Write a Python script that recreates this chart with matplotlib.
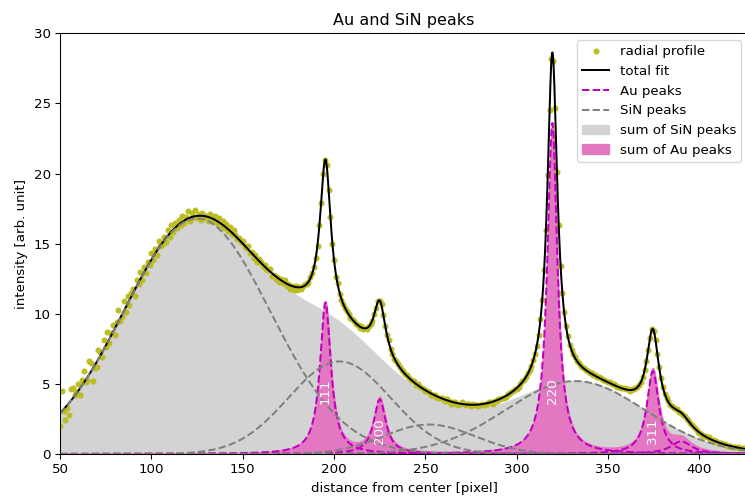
import numpy as np
import matplotlib
matplotlib.use("Agg")
import matplotlib.pyplot as plt

# Azimuthally averaged intensity, one value per pixel radius starting at r = 50
radial_start = 50
radial_profile = [
    2.0, 4.5, 3.1, 2.4, 3.3, 2.8, 4.6, 4.7, 4.2, 4.4,              # 50-59
    5.0, 4.2, 5.3, 5.9, 5.1, 5.3, 6.6, 6.5, 5.2, 6.1,              # 60-69
    6.2, 7.4, 7.3, 6.9, 8.1, 7.6, 8.7, 7.9, 8.6, 9.2,              # 70-79
    8.5, 9.4, 10.3, 9.5, 9.8, 10.9, 10.1, 11.3, 10.6, 11.5,        # 80-89
    11.8, 11.3, 12.4, 12.1, 13.0, 12.4, 13.3, 12.9, 13.7, 13.5,    # 90-99
    14.3, 13.8, 14.6, 14.2, 15.2, 14.8, 14.9, 15.5, 15.1, 16.0,    # 100-109
    15.5, 16.3, 15.8, 16.5, 16.1, 16.7, 16.3, 17.0, 16.5, 16.9,    # 110-119
    17.3, 16.6, 17.2, 16.9, 17.4, 16.8, 17.1, 16.7, 17.2, 16.9, 17.0, 16.6,  # 120-131
    17.1, 16.6, 16.9, 17.0, 16.5, 16.8, 16.3, 16.6,                # 132-139
    16.1, 16.4, 15.9, 16.2, 15.7, 16.0, 15.6, 15.3,                # 140-147
    15.4, 15.1, 15.2, 14.8, 14.7, 14.8, 14.3, 14.4, 14.0, 14.2, 13.7, 13.9,  # 148-159
    13.7, 13.4, 13.5, 13.2, 13.1, 13.2, 12.7, 12.8, 12.5, 12.6, 12.3, 12.5,  # 160-171
    12.2, 12.4, 12.0, 12.1, 11.8, 12.0, 11.7, 12.0, 11.7, 11.9, 11.8, 12.0,  # 172-183
    12.1, 12.1, 12.3, 12.6, 12.9, 13.3, 14.0, 14.8, 16.3, 17.9, 20.0,        # 184-194
    21.0, 20.6, 18.8, 16.9, 15.0, 13.8, 12.6, 12.2, 11.4, 11.0, 10.7, 10.4,  # 195-206
    10.2, 10.0, 9.7, 9.6, 9.5, 9.3, 9.2, 9.0, 9.1, 8.9, 9.0, 8.9,            # 207-218
    9.1, 9.3, 9.5, 10.0, 10.4, 10.9, 10.9, 10.7, 9.9, 9.1, 8.5, 8.1,         # 219-230
    7.5, 7.1, 6.8, 6.6, 6.4, 6.2, 6.0, 5.9, 5.7, 5.6, 5.4, 5.3,              # 231-242
    5.2, 5.2, 4.9, 5.0, 4.8, 4.7, 4.6, 4.5, 4.5, 4.4, 4.2, 4.2,              # 243-254
    4.2, 4.1, 4.0, 4.0, 4.0, 3.9, 3.8, 3.9, 3.8, 3.6, 3.7, 3.7,              # 255-266
    3.6, 3.5, 3.6, 3.7, 3.6, 3.5, 3.6, 3.6,                                  # 267-274
    3.4, 3.6, 3.5, 3.5, 3.4, 3.5, 3.6, 3.5,                                  # 275-282
    3.6, 3.6, 3.7, 3.7, 3.6, 3.8, 3.8, 3.9, 3.9, 4.0, 4.0, 4.1,              # 283-294
    4.3, 4.3, 4.4, 4.5, 4.6, 4.6, 4.8, 5.0, 5.2, 5.3, 5.5, 5.8,              # 295-306
    6.0, 6.3, 6.7, 7.1, 7.7, 8.5, 9.6, 11.0, 13.1, 16.0, 19.9, 24.5,         # 307-318
    28.2, 28.0, 24.7, 20.1, 16.3, 13.4, 11.5, 10.1, 9.1, 8.4, 7.8, 7.4,      # 319-330
    7.1, 6.9, 6.6, 6.5, 6.3, 6.2, 6.1, 6.0, 5.9, 5.8, 5.8, 5.6,              # 331-342
    5.6, 5.5, 5.5, 5.4, 5.3, 5.3, 5.2, 5.1, 5.1, 5.0, 5.0, 4.9,              # 343-354
    4.8, 4.8, 4.7, 4.7, 4.7, 4.6, 4.6, 4.5, 4.6, 4.6, 4.7, 4.8,              # 355-366
    4.9, 5.1, 5.5, 6.0, 6.6, 7.4, 8.3, 8.9, 8.8, 8.1, 7.1, 6.2,              # 367-378
    5.4, 4.8, 4.3, 4.0, 3.8, 3.5, 3.4, 3.3, 3.2, 3.2, 3.0, 2.9,              # 379-390
    2.8, 2.7, 2.5, 2.4, 2.2, 2.1, 1.9, 1.8, 1.6, 1.5, 1.4, 1.3,              # 391-402
    1.3, 1.2, 1.2, 1.1, 1.0, 1.0, 0.9, 0.8, 0.8, 0.8, 0.7, 0.7,              # 403-414
    0.6, 0.6, 0.6, 0.5, 0.5, 0.5, 0.5, 0.4, 0.4, 0.4, 0.4,                   # 415-425
]

# SiN background peaks: Gaussian (amplitude, centre, sigma)
sin_amp = [16.8, 6.6, 2.1, 5.2]
sin_cen = [125.0, 203.0, 252.0, 332.0]
sin_sig = [40.0, 28.0, 25.0, 38.0]

# Au reflections: Lorentzian (amplitude, centre, half width)
au_amp = [10.8, 3.9, 23.6, 5.9, 0.9]
au_cen = [195.3, 225.0, 319.5, 374.5, 390.0]
au_hwhm = [3.6, 4.0, 3.3, 4.0, 7.0]

hkl_labels = ["111", "200", "220", "311"]
hkl_label_y = [4.5, 1.65, 4.5, 1.6]


def gauss(x, a, c, s):
    return a * np.exp(-(x - c) ** 2 / (2 * s ** 2))


def lorentz(x, a, c, g):
    return a / (1 + ((x - c) / g) ** 2)


DPI = 96
r_px = np.arange(radial_start, radial_start + len(radial_profile))
x = np.linspace(50, 440, 3000)
sin_curves = [gauss(x, a, c, s) for a, c, s in zip(sin_amp, sin_cen, sin_sig)]
au_curves = [lorentz(x, a, c, g) for a, c, g in zip(au_amp, au_cen, au_hwhm)]
sin_sum = np.sum(sin_curves, axis=0)
au_sum = np.sum(au_curves, axis=0)
total = sin_sum + au_sum

fig = plt.figure(figsize=(745 / DPI, 502 / DPI), dpi=DPI)
ax = fig.add_axes([60 / 745, 48 / 502, 688 / 745, 420.7 / 502])

ax.plot(r_px, radial_profile, ".", color="C8", ms=7, label="radial profile")
ax.plot(x, total, "-", color="black", lw=1.5, label="total fit")
for i, c in enumerate(au_curves):
    ax.plot(x, c, "--", color="m", lw=1.5, label="Au peaks" if i == 0 else None)
for i, c in enumerate(sin_curves):
    ax.plot(x, c, "--", color="gray", lw=1.5, label="SiN peaks" if i == 0 else None)
ax.fill_between(x, sin_sum, color="lightgray", label="sum of SiN peaks")
ax.fill_between(x, au_sum, color="C6", label="sum of Au peaks")

for lab, c, ly in zip(hkl_labels, au_cen, hkl_label_y):
    ax.text(c, ly, lab, rotation=90, color="white", fontsize=10,
            ha="center", va="center")

ax.set_xlim(50, 426.6)
ax.set_ylim(0, 30)
ax.set_title("Au and SiN peaks")
ax.set_xlabel("distance from center [pixel]")
ax.set_ylabel("intensity [arb. unit]")
ax.legend(loc="upper right")

fig.savefig("out.png", dpi=DPI)
